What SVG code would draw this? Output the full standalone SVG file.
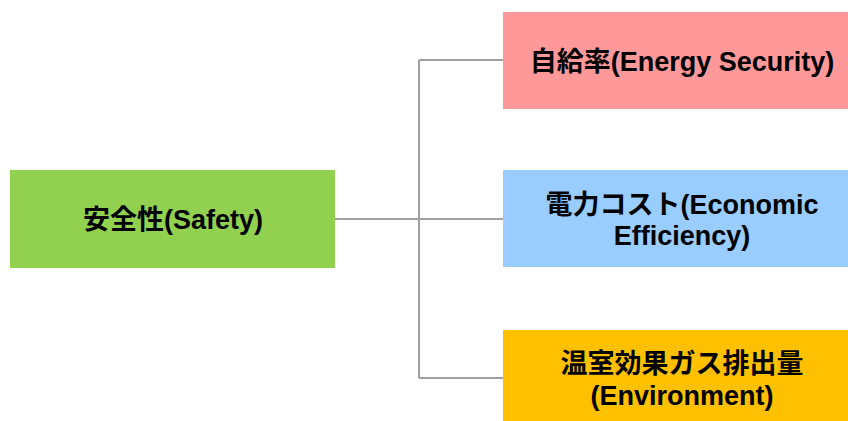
<svg xmlns="http://www.w3.org/2000/svg" width="848" height="421" viewBox="0 0 848 421">
<style>
.t{font-family:"Liberation Sans","Noto Sans CJK JP",sans-serif;font-weight:bold;font-size:27px;fill:#000;text-anchor:middle}
.c{fill:none;stroke:#A0A0A0;stroke-width:2}
</style>
<rect width="848" height="421" fill="#fff"/>
<g id="connectors">
<path class="c" d="M335 219H419M419 60V378M419 60H503M419 219H503M419 378H503"/>
</g>
<g id="safety">
<rect x="10" y="170" width="325" height="98" fill="#92D050"/>
<text class="t" x="173" y="229">安全性(Safety)</text>
</g>
<g id="energy">
<rect x="503" y="12" width="345" height="97" fill="#FF9999"/>
<text class="t" x="682" y="71">自給率(Energy Security)</text>
</g>
<g id="economic">
<rect x="503" y="170" width="345" height="97" fill="#99CCFF"/>
<text class="t" x="682" y="214">電力コスト(Economic</text>
<text class="t" x="682" y="245">Efficiency)</text>
</g>
<g id="environment">
<rect x="503" y="330" width="345" height="91" fill="#FFC000"/>
<text class="t" x="682" y="373">温室効果ガス排出量</text>
<text class="t" x="682" y="405">(Environment)</text>
</g>
</svg>
